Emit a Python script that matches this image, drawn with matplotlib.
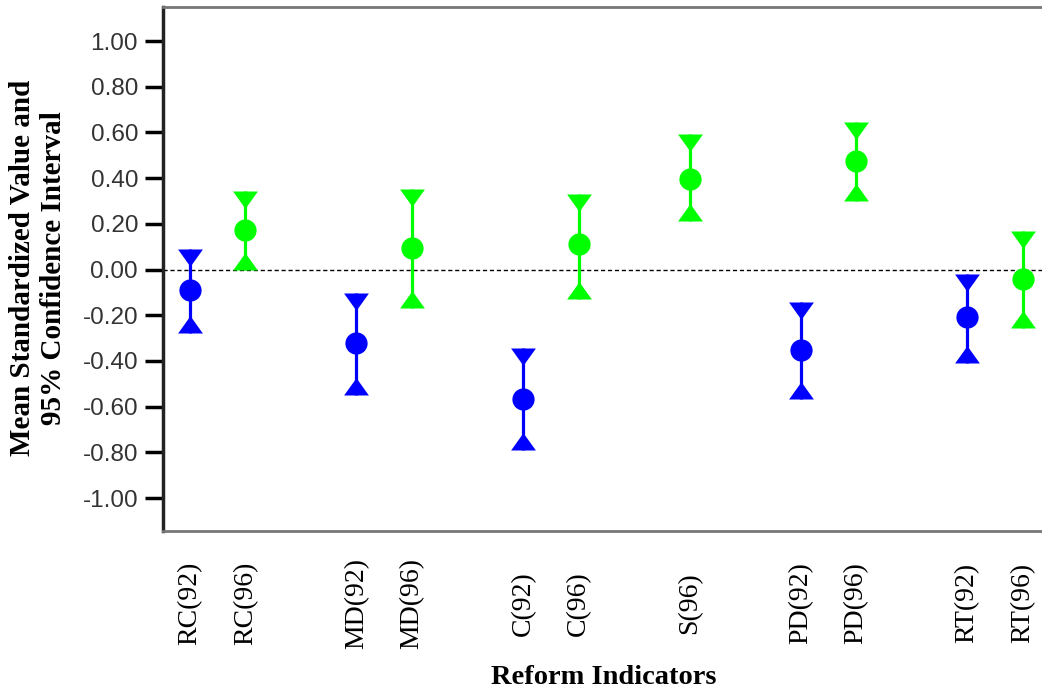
import numpy as np
import matplotlib
matplotlib.use('Agg')
import matplotlib.pyplot as plt

## data
labels = ['RC(92)', 'RC(96)', 'MD(92)', 'MD(96)', 'C(92)', 'C(96)',
          'S(96)', 'PD(92)', 'PD(96)', 'RT(92)', 'RT(96)']
xpos = [0, 1, 3, 4, 6, 7, 9, 11, 12, 14, 15]
means = [-0.09, 0.175, -0.32, 0.093, -0.568, 0.112, 0.396, -0.352, 0.476, -0.207, -0.043]
upper = [0.088, 0.345, -0.101, 0.352, -0.345, 0.329, 0.593, -0.141, 0.647, -0.021, 0.17]
lower = [-0.279, 0.0, -0.549, -0.17, -0.79, -0.129, 0.214, -0.568, 0.301, -0.408, -0.256]
yticks = [-1.0, -0.8, -0.6, -0.4, -0.2, 0.0, 0.2, 0.4, 0.6, 0.8, 1.0]

blue = '#0000ff'
green = '#00ff00'
colors = [blue if '92' in l else green for l in labels]

# triangles with the flat side sitting on the bound
tri_down = [(-0.5, 0), (0.5, 0), (0, -0.7), (-0.5, 0)]
tri_up = [(-0.5, 0), (0.5, 0), (0, 0.7), (-0.5, 0)]

fig = plt.figure(figsize=(10.42, 6.94), dpi=100)
ax = fig.add_axes([163/1042., 1 - 531/694., 1 - 163/1042., (531 - 7)/694.])

ax.axhline(0, color='black', lw=1.0, ls=(0, (3, 2)), zorder=1)

for x, m, hi, lo, c in zip(xpos, means, upper, lower, colors):
    ax.plot([x, x], [lo, hi], color=c, lw=2.3, solid_capstyle='butt', zorder=2)
    ax.plot(x, hi, marker=tri_down, ms=25, color=c, mec=c, mew=0, ls='none', zorder=3)
    ax.plot(x, lo, marker=tri_up, ms=25, color=c, mec=c, mew=0, ls='none', zorder=3)
    ax.plot(x, m, 'o', ms=16, color=c, mec=c, mew=0, zorder=4)

ax.set_xlim(-0.486, 15.35)
ax.set_ylim(-1.144, 1.149)

ax.set_yticks(yticks)
ax.set_yticklabels(['%.2f' % v for v in yticks], family='Liberation Sans',
                   fontsize=17.5, color='#333333')
ax.tick_params(axis='y', direction='out', length=13, width=2.5, pad=5, color='black')

# x labels are centred vertically in a band below the axis
ax.set_xticks(xpos)
ax.set_xticklabels(labels, rotation=90, family='Liberation Serif', fontsize=20,
                   va='center')
ax.tick_params(axis='x', length=0, pad=52)

ax.spines['right'].set_visible(False)
ax.spines['left'].set_linewidth(2.5)
ax.spines['left'].set_color('#222222')
ax.spines['top'].set_linewidth(2)
ax.spines['top'].set_color('#777777')
ax.spines['bottom'].set_linewidth(2)
ax.spines['bottom'].set_color('#777777')

fig.text(38/1042., 1 - 268/694., 'Mean Standardized Value and\n95% Confidence Interval',
         family='Liberation Serif', fontweight='bold', fontsize=21, rotation=90,
         linespacing=1.15, ha='center', va='center', multialignment='center')
fig.text(604/1042., 1 - 677/694., 'Reform Indicators', family='Liberation Serif',
         fontweight='bold', fontsize=20.5, ha='center', va='center')

fig.savefig('out.png', dpi=100)
